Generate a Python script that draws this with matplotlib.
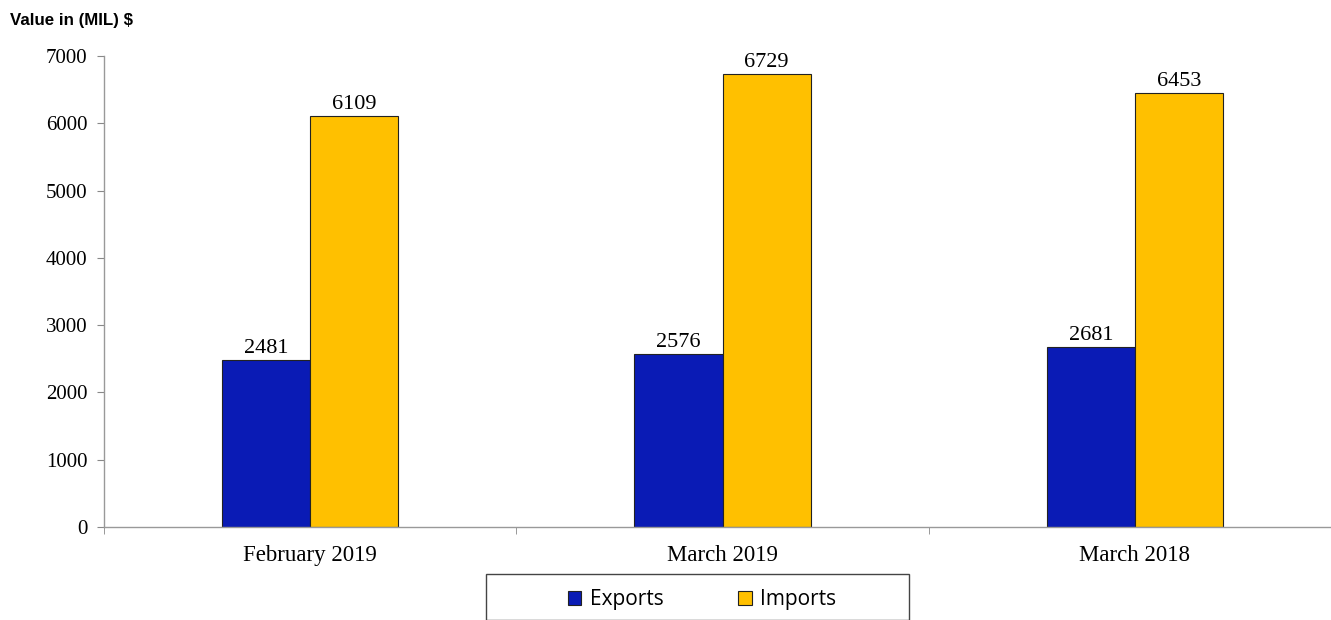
import matplotlib
matplotlib.use("Agg")
import matplotlib.pyplot as plt
from matplotlib.patches import Rectangle, Patch
import numpy as np

categories = ["February 2019", "March 2019", "March 2018"]
exports = [2481, 2576, 2681]
imports = [6109, 6729, 6453]
series_names = ["Exports", "Imports"]
y_ticks = [0, 1000, 2000, 3000, 4000, 5000, 6000, 7000]

W, H = 1331, 620
fig = plt.figure(figsize=(W / 100, H / 100), dpi=100)
ax = fig.add_axes([104 / W, 1 - 527 / H, (1341 - 104) / W, (527 - 56) / H])

x = np.arange(len(categories))
bw = 0.2136
c_exp = "#0A1BB5"
c_imp = "#FFC000"
b1 = ax.bar(x - bw / 2, exports, bw, color=c_exp, edgecolor="#222222", linewidth=0.8)
b2 = ax.bar(x + bw / 2, imports, bw, color=c_imp, edgecolor="#222222", linewidth=0.8)

serif = "Liberation Serif"
for bars, vals in ((b1, exports), (b2, imports)):
    for r, v in zip(bars, vals):
        ax.text(r.get_x() + r.get_width() / 2, v + 30, str(v), ha="center", va="bottom",
                fontsize=16, family=serif, color="black")

ax.set_xlim(-0.5, len(categories) - 0.5)
ax.set_ylim(0, 7000)
ax.set_yticks(y_ticks)
ax.set_yticklabels([str(t) for t in y_ticks], family=serif, fontsize=15)
ax.set_xticks(x)
ax.set_xticklabels(categories, family=serif, fontsize=16.5)
ax.tick_params(axis="x", length=0, pad=13)
ax.set_xticks(np.arange(len(categories) + 1) - 0.5, minor=True)
ax.tick_params(axis="x", which="minor", length=5, color="#888888", direction="out")
ax.tick_params(axis="y", length=5, color="#888888", direction="out", pad=7)

for s in ("top", "right"):
    ax.spines[s].set_visible(False)
for s in ("left", "bottom"):
    ax.spines[s].set_color("#999999")
    ax.spines[s].set_linewidth(1.0)

fig.text(10 / W, 1 - 20 / H, "Value in (MIL) $", fontsize=12.2, fontweight="bold",
         family="Liberation Sans", ha="left", va="center")

# legend box
rect = Rectangle((486 / W, 0), (909 - 486) / W, (620 - 574) / H, transform=fig.transFigure,
                 facecolor="white", edgecolor="#444444", linewidth=1.0)
fig.patches.append(rect)
handles = [Patch(facecolor=c_exp, edgecolor="#222222", linewidth=0.8),
           Patch(facecolor=c_imp, edgecolor="#222222", linewidth=0.8)]
fig.legend(handles, series_names, loc="center", bbox_to_anchor=(702 / W, 1 - 600 / H),
           ncol=2, frameon=False, prop={"family": "Open Sans", "size": 15},
           handlelength=0.65, handleheight=0.65, handletextpad=0.4, columnspacing=3.6)

fig.savefig("out.png", dpi=100)
